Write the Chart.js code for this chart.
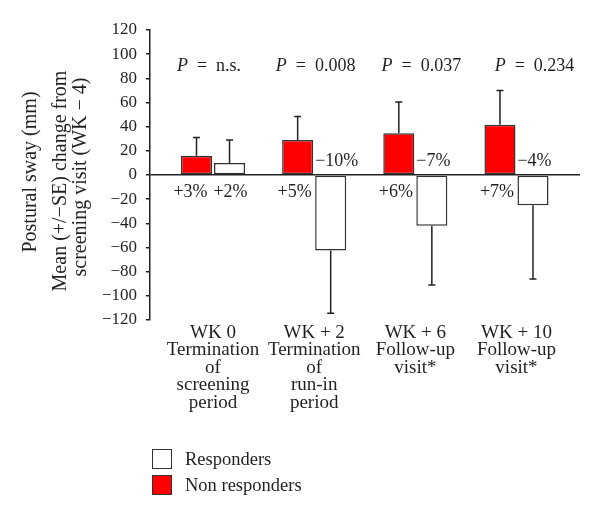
<!DOCTYPE html>
<html>
<head>
<meta charset="utf-8">
<script src="https://cdn.jsdelivr.net/npm/chart.js@4.4.0/dist/chart.umd.min.js"></script>
<style>
  body { margin: 0; background: #fff; }
  #wrap { position: relative; width: 600px; height: 516px; }
  #legend { position: absolute; left: 152px; top: 446px; font-family: "Liberation Serif", serif; font-size: 18.5px; color: #231f20; }
  .item { display: flex; align-items: center; height: 26px; }
  .box { width: 20px; height: 20px; border: 1.5px solid #333; box-sizing: border-box; margin-right: 13px; }
</style>
</head>
<body>
<div id="wrap">
  <canvas id="chart" width="600" height="516"></canvas>
  <div id="legend">
    <div class="item"><span class="box" style="background:#fff"></span>Responders</div>
    <div class="item"><span class="box" style="background:#ff0000"></span>Non responders</div>
  </div>
</div>
<script>
// categories (multi-line x labels)
var categories = [
  ['WK 0', 'Termination', 'of', 'screening', 'period'],
  ['WK + 2', 'Termination', 'of', 'run-in', 'period'],
  ['WK + 6', 'Follow-up', 'visit*'],
  ['WK + 10', 'Follow-up', 'visit*']
];
// mean change (mm) and SE
var nonResponders = [16, 29, 34.5, 41.5];
var nonRespSE = [15, 19.5, 26, 28.5];
var responders = [10, -62.5, -42, -25];
var respSE = [19, 52, 49, 61];
// annotations
var pValues = ['n.s.', '0.008', '0.037', '0.234'];
var nonRespPct = ['+3%', '+5%', '+6%', '+7%'];
var respPct = ['+2%', '\u221210%', '\u22127%', '\u22124%'];
// y axis
var yMin = -120, yMax = 120, yStep = 20;

var SERIF = '"Liberation Serif", "DejaVu Serif", serif';
var INK = '#231f20';

function toPoints(arr) {
  return arr.map(function (v, i) { return { x: i, y: v }; });
}

var extras = {
  id: 'extras',
  afterDatasetsDraw: function (chart) {
    var ctx = chart.ctx;
    var y = chart.scales.y;
    var zero = y.getPixelForValue(0);
    var sets = [[0, nonResponders, nonRespSE], [1, responders, respSE]];

    // error bars
    ctx.save();
    ctx.strokeStyle = '#222';
    ctx.lineWidth = 1.5;
    sets.forEach(function (s) {
      var meta = chart.getDatasetMeta(s[0]);
      meta.data.forEach(function (bar, i) {
        var v = s[1][i];
        var end = v + (v >= 0 ? 1 : -1) * s[2][i];
        var ye = y.getPixelForValue(end);
        ctx.beginPath();
        ctx.moveTo(bar.x, bar.y);
        ctx.lineTo(bar.x, ye);
        ctx.moveTo(bar.x - 3.5, ye);
        ctx.lineTo(bar.x + 3.5, ye);
        ctx.stroke();
      });
    });
    ctx.restore();

    // percent labels
    ctx.save();
    ctx.fillStyle = INK;
    ctx.font = '18px ' + SERIF;
    ctx.textBaseline = 'middle';
    var red = chart.getDatasetMeta(0).data;
    var white = chart.getDatasetMeta(1).data;
    red.forEach(function (bar, i) {
      ctx.textAlign = 'center';
      ctx.fillText(nonRespPct[i], bar.x - (i === 0 ? 6 : 3), zero + 17);
    });
    white.forEach(function (bar, i) {
      if (responders[i] >= 0) {
        ctx.textAlign = 'center';
        ctx.fillText(respPct[i], bar.x + 1, zero + 17);
      } else {
        ctx.textAlign = 'left';
        ctx.fillText(respPct[i], bar.x - bar.width / 2, zero - 14);
      }
    });

    // P values
    var pShift = [-4, 1.5, 6, 18];
    red.forEach(function (bar, i) {
      var cx = (bar.x + white[i].x) / 2 + pShift[i];
      ctx.font = 'italic 18px ' + SERIF;
      var w1 = ctx.measureText('P').width;
      ctx.font = '18px ' + SERIF;
      var rest = '  =  ' + pValues[i];
      var w2 = ctx.measureText(rest).width;
      var x0 = cx - (w1 + w2) / 2;
      ctx.textAlign = 'left';
      ctx.font = 'italic 18px ' + SERIF;
      ctx.fillText('P', x0, 66);
      ctx.font = '18px ' + SERIF;
      ctx.fillText(rest, x0 + w1, 66);
    });

    // y axis title
    ctx.font = '20px ' + SERIF;
    ctx.textAlign = 'center';
    var titles = [['Postural sway (mm)', 31, 172], ['Mean (+/\u2212SE) change from', 61, 181], ['screening visit (WK \u2212 4)', 81, 177]];
    titles.forEach(function (t) {
      ctx.save();
      ctx.translate(t[1], t[2]);
      ctx.rotate(-Math.PI / 2);
      ctx.fillText(t[0], 0, 0);
      ctx.restore();
    });
    ctx.restore();
  }
};

new Chart(document.getElementById('chart'), {
  type: 'bar',
  data: {
    datasets: [
      {
        label: 'Non responders',
        data: toPoints(nonResponders),
        backgroundColor: '#ff0000',
        borderColor: '#333',
        borderWidth: 1.5,
        borderSkipped: false
      },
      {
        label: 'Responders',
        data: toPoints(responders),
        backgroundColor: '#ffffff',
        borderColor: '#333',
        borderWidth: 1.5,
        borderSkipped: false
      }
    ]
  },
  options: {
    responsive: false,
    animation: false,
    categoryPercentage: 0.653,
    barPercentage: 0.94,
    layout: { padding: { top: 30, right: 20, left: 0, bottom: 0 } },
    plugins: { legend: { display: false }, tooltip: { enabled: false } },
    scales: {
      x: {
        type: 'linear',
        offset: false,
        min: -0.623,
        max: 3.628,
        grid: { display: false, drawTicks: false, offset: false },
        border: { display: false },
        afterBuildTicks: function (scale) {
          scale.ticks = categories.map(function (c, i) { return { value: i }; });
        },
        afterFit: function (scale) { scale.height = 196; },
        ticks: {
          autoSkip: false,
          maxRotation: 0,
          padding: 4,
          color: INK,
          font: { family: SERIF, size: 19, lineHeight: 0.92 },
          callback: function (v) { return categories[v]; }
        }
      },
      y: {
        min: yMin,
        max: yMax,
        afterFit: function (scale) { scale.width = 150; },
        border: { display: true, color: '#222', width: 1.5 },
        grid: {
          drawOnChartArea: true,
          drawTicks: true,
          tickLength: 4,
          tickColor: '#222',
          lineWidth: 1.5,
          color: function (c) { return c.tick && c.tick.value === 0 ? '#222' : 'rgba(0,0,0,0)'; }
        },
        ticks: {
          stepSize: yStep,
          padding: 9,
          color: INK,
          font: { family: SERIF, size: 17 },
          callback: function (v) { return v < 0 ? '\u2212' + Math.abs(v) : String(v); }
        }
      }
    }
  },
  plugins: [extras]
});
</script>
</body>
</html>
